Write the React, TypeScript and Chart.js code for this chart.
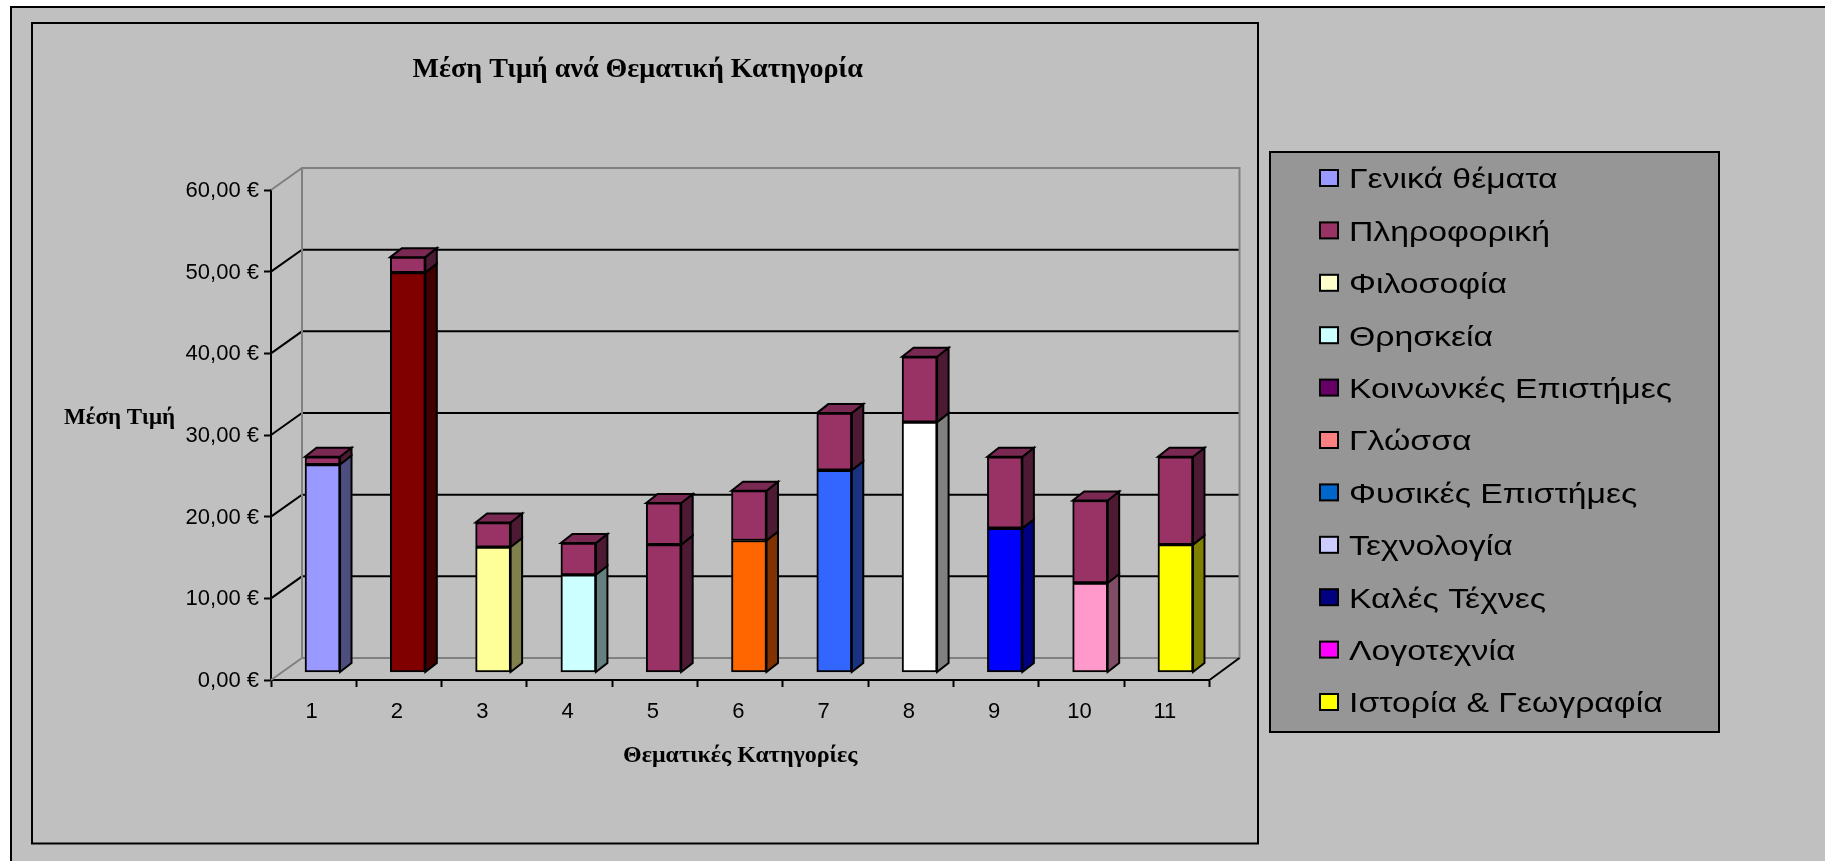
import React, { useEffect, useRef } from "react";
import { Chart, registerables } from "chart.js";

Chart.register(...registerables);

const categories = ["1", "2", "3", "4", "5", "6", "7", "8", "9", "10", "11"];
const baseValues = [25.4, 48.9, 15.3, 11.9, 15.6, 16.1, 24.7, 30.6, 17.6, 10.9, 15.6];
const topValues = [0.95, 1.9, 3.0, 3.9, 5.1, 6.1, 7.0, 8.0, 8.75, 10.1, 10.75];
const baseColors = ["#9999FF", "#800000", "#FFFF99", "#CCFFFF", "#993366", "#FF6600", "#3366FF", "#FFFFFF", "#0000FF", "#FF99CC", "#FFFF00"];
const topColor = "#993366";
const legendLabels = ["Γενικά θέματα", "Πληροφορική", "Φιλοσοφία", "Θρησκεία", "Κοινωνκές Επιστήμες", "Γλώσσα", "Φυσικές Επιστήμες", "Τεχνολογία", "Καλές Τέχνες", "Λογοτεχνία", "Ιστορία & Γεωγραφία"];
const legendColors = ["#9999FF", "#993366", "#FFFFCC", "#CCFFFF", "#660066", "#FF8080", "#0066CC", "#CCCCFF", "#000080", "#FF00FF", "#FFFF00"];

const GREY = "#C0C0C0";
const DEPTH_X = 31;
const DEPTH_Y = 22;
const BAR_DX = 11.5;
const BAR_DY = 9;

function shade(hex: string, f: number) {
  const n = parseInt(hex.slice(1), 16);
  const c = [(n >> 16) & 255, (n >> 8) & 255, n & 255].map((v) => Math.round(v * f));
  return `rgb(${c[0]},${c[1]},${c[2]})`;
}

function poly(ctx: CanvasRenderingContext2D, pts: number[][], fill: string) {
  ctx.beginPath();
  pts.forEach((p, i) => (i ? ctx.lineTo(p[0], p[1]) : ctx.moveTo(p[0], p[1])));
  ctx.closePath();
  ctx.fillStyle = fill;
  ctx.fill();
  ctx.stroke();
}

const framePlugin = {
  id: "frames",
  beforeDraw(chart: any) {
    const ctx: CanvasRenderingContext2D = chart.ctx;
    ctx.save();
    ctx.fillStyle = "#FFFFFF";
    ctx.fillRect(0, 0, chart.width, chart.height);
    ctx.fillStyle = GREY;
    ctx.fillRect(11, 7, chart.width, chart.height);
    ctx.fillStyle = "#000";
    ctx.fillRect(10, 6, chart.width, 2);
    ctx.fillRect(10, 6, 2, chart.height);
    ctx.strokeStyle = "#000";
    ctx.lineWidth = 2;
    ctx.strokeRect(32, 23, 1226, 820.5);
    // legend box
    ctx.fillStyle = "#969696";
    ctx.fillRect(1270, 152, 449, 580);
    ctx.strokeRect(1270, 152, 449, 580);
    legendLabels.forEach((label, i) => {
      const y = 178 + i * 52.4;
      ctx.fillStyle = legendColors[i];
      ctx.fillRect(1320, y - 8, 18, 16);
      ctx.strokeRect(1320, y - 8, 18, 16);
      ctx.save();
      ctx.translate(1349, y);
      ctx.scale(1.25, 1);
      ctx.fillStyle = "#000";
      ctx.font = '27px "Liberation Sans"';
      ctx.textBaseline = "middle";
      ctx.fillText(label, 0, 3);
      ctx.restore();
    });
    // horizontal value-axis heading
    ctx.fillStyle = "#000";
    ctx.font = 'bold 23px "Liberation Serif"';
    ctx.textBaseline = "middle";
    ctx.fillText("Μέση Τιμή", 64, 418);
    ctx.restore();
  },
  beforeDatasetsDraw(chart: any) {
    const ctx: CanvasRenderingContext2D = chart.ctx;
    const y = chart.scales.y;
    const { left, right, top, bottom } = chart.chartArea;
    ctx.save();
    ctx.lineWidth = 2;
    // gridlines on the back wall and the slanted left wall
    ctx.strokeStyle = "#000";
    y.ticks.forEach((t: any) => {
      if (t.value === 0 || t.value === 60) return;
      const py = y.getPixelForValue(t.value);
      ctx.beginPath();
      ctx.moveTo(left, py);
      ctx.lineTo(left + DEPTH_X, py - DEPTH_Y);
      ctx.lineTo(right + DEPTH_X - 1, py - DEPTH_Y);
      ctx.stroke();
    });
    ctx.strokeStyle = "#808080";
    ctx.beginPath();
    ctx.moveTo(left, top);
    ctx.lineTo(left + DEPTH_X, top - DEPTH_Y);
    ctx.lineTo(right + DEPTH_X - 1, top - DEPTH_Y);
    ctx.lineTo(right + DEPTH_X - 1, bottom - DEPTH_Y);
    ctx.lineTo(left + DEPTH_X, bottom - DEPTH_Y);
    ctx.lineTo(left + DEPTH_X, top - DEPTH_Y);
    ctx.moveTo(left + DEPTH_X, bottom - DEPTH_Y);
    ctx.lineTo(left, bottom);
    ctx.stroke();
    ctx.strokeStyle = "#000";
    ctx.beginPath();
    ctx.moveTo(right, bottom);
    ctx.lineTo(right + DEPTH_X - 1, bottom - DEPTH_Y);
    ctx.stroke();
    // side and top faces of the bars, read from the bar elements
    ctx.strokeStyle = "#000";
    ctx.lineJoin = "miter";
    chart.data.datasets.forEach((ds: any, di: number) => {
      chart.getDatasetMeta(di).data.forEach((el: any, i: number) => {
        const { x, y: ty, base, width } = el.getProps(["x", "y", "base", "width"], true);
        const r = x + width / 2;
        const l = x - width / 2;
        const col = Array.isArray(ds.backgroundColor) ? ds.backgroundColor[i] : ds.backgroundColor;
        poly(ctx, [[r, ty], [r + BAR_DX, ty - BAR_DY], [r + BAR_DX, base - BAR_DY], [r, base]], shade(col, 0.5));
        if (di === chart.data.datasets.length - 1) {
          poly(ctx, [[l, ty], [l + BAR_DX, ty - BAR_DY], [r + BAR_DX, ty - BAR_DY], [r, ty]], shade(col, 0.8));
        }
      });
    });
    ctx.restore();
  },
};

export default function App() {
  const ref = useRef<HTMLCanvasElement | null>(null);
  useEffect(() => {
    const chart = new Chart(ref.current as HTMLCanvasElement, {
      type: "bar",
      data: {
        labels: categories,
        datasets: [
          { label: "Βάση", data: baseValues, backgroundColor: baseColors, borderColor: "#000", borderWidth: 2, borderSkipped: false, barThickness: 35, xAxisID: "xb", yAxisID: "yb" },
          { label: "Πληροφορική", data: topValues, backgroundColor: topColor, borderColor: "#000", borderWidth: 2, borderSkipped: false, barThickness: 35, xAxisID: "xb", yAxisID: "yb" },
        ],
      },
      options: {
        animation: false,
        responsive: false,
        devicePixelRatio: 1,
        layout: { autoPadding: false, padding: { left: 66, top: 20, right: 615.5, bottom: 91 } },
        plugins: {
          legend: { display: false },
          tooltip: { enabled: false },
          title: {
            display: true,
            text: "Μέση Τιμή ανά Θεματική Κατηγορία",
            color: "#000",
            font: { family: '"Liberation Serif"', size: 28, weight: "bold", lineHeight: 1.2 },
            padding: { top: 33, bottom: 103.4 },
          },
        },
        scales: {
          x: {
            type: "category",
            offset: true,
            position: "bottom",
            afterFit: (s: any) => { s.height = 90; },
            grid: { offset: true, drawOnChartArea: false, tickLength: 7, tickWidth: 2, tickColor: "#000" },
            border: { color: "#000", width: 2 },
            ticks: { color: "#000", font: { family: '"Liberation Sans"', size: 22 }, padding: 12, autoSkip: false, maxRotation: 0, labelOffset: -2 },
            title: {
              display: true,
              text: "Θεματικές Κατηγορίες",
              color: "#000",
              font: { family: '"Liberation Serif"', size: 24, weight: "bold", lineHeight: 1.2 },
              padding: { top: 0, bottom: 0 },
            },
          },
          y: {
            position: "left",
            min: 0,
            max: 60,
            afterFit: (s: any) => { s.width = 205; },
            grid: { drawOnChartArea: false, tickLength: 7, tickWidth: 2, tickColor: "#000" },
            border: { color: "#000", width: 2 },
            ticks: {
              stepSize: 10,
              color: "#000",
              padding: 5,
              labelOffset: 1,
              font: { family: '"Liberation Sans"', size: 22 },
              callback: (v: any) => Number(v).toFixed(2).replace(".", ",") + " €",
            },
          },
          xb: { type: "linear", display: false, position: "bottom", stacked: true, offset: false, min: 0.396, max: 11.399 },
          yb: { type: "linear", display: false, position: "left", stacked: true, min: -0.98, max: 59.02 },
        },
      },
      plugins: [framePlugin],
    } as any);
    return () => chart.destroy();
  }, []);
  return (
    <canvas
      ref={ref}
      width={1825}
      height={861}
      style={{ position: "fixed", left: 0, top: 0, width: 1825, height: 861, display: "block" }}
    />
  );
}
